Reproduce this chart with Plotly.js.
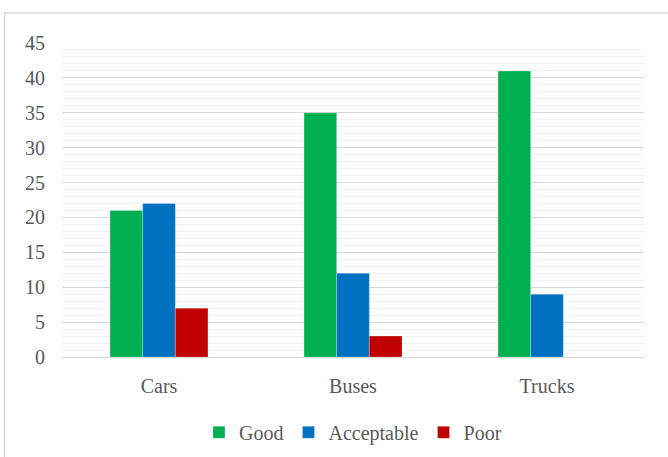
<!DOCTYPE html>
<html>
<head>
<meta charset="utf-8">
<script src="https://cdn.plot.ly/plotly-3.0.1.min.js"></script>
<style>html,body{margin:0;padding:0;background:#fff;}#chart{width:668px;height:457px;}</style>
</head>
<body>
<div id="chart"></div>
<script>
const categories = ["Cars", "Buses", "Trucks"];
const good = [21, 35, 41];
const acceptable = [22, 12, 9];
const poor = [7, 3, 0];
const seriesNames = ["Good", "Acceptable", "Poor"];
const seriesColors = ["#00B050", "#0070C0", "#C00000"];
const yTicks = [0, 5, 10, 15, 20, 25, 30, 35, 40, 45];

const seriesValues = [good, acceptable, poor];
const traces = seriesValues.map((vals, i) => ({
  type: "bar",
  name: seriesNames[i],
  x: categories,
  y: vals,
  marker: {color: seriesColors[i], line: {color: "rgba(255,255,255,0.5)", width: 0.5}},
  hoverinfo: "skip"
}));

const font = {family: "Liberation Serif", size: 20, color: "#595959"};

const layout = {
  width: 668, height: 457,
  margin: {l: 62, r: 24, t: 43, b: 100, autoexpand: false},
  paper_bgcolor: "#fff", plot_bgcolor: "#fff",
  font: font,
  barmode: "group",
  bargap: 0.495,
  bargroupgap: 0,
  showlegend: true,
  legend: {orientation: "h", x: 0.5, xanchor: "center", yref: "container", y: 0.054, yanchor: "middle",
           font: font, itemwidth: 30, traceorder: "normal"},
  xaxis: {type: "category", showgrid: false, showline: true, linecolor: "#d9d9d9", linewidth: 1,
          ticks: "", tickfont: font, zeroline: false, fixedrange: true, ticklabelstandoff: 11},
  yaxis: {range: [0, 45], tickvals: yTicks, ticktext: yTicks.map(String), showgrid: true,
          gridcolor: "#d9d9d9", gridwidth: 1, zeroline: false, showline: false, ticks: "",
          tickfont: font, ticklabelstandoff: 16,
          minor: {dtick: 1, tick0: 0, showgrid: true, gridcolor: "#f0f0f0", gridwidth: 1}},
  shapes: [
    {type: "rect", xref: "paper", yref: "paper", x0: -0.0988, x1: 1.06, y0: -0.35, y1: 1.0955,
     line: {color: "#d9d9d9", width: 1.5}, fillcolor: "rgba(0,0,0,0)", layer: "below"}
  ]
};

Plotly.newPlot("chart", traces, layout, {displayModeBar: false, staticPlot: true});
</script>
</body>
</html>
